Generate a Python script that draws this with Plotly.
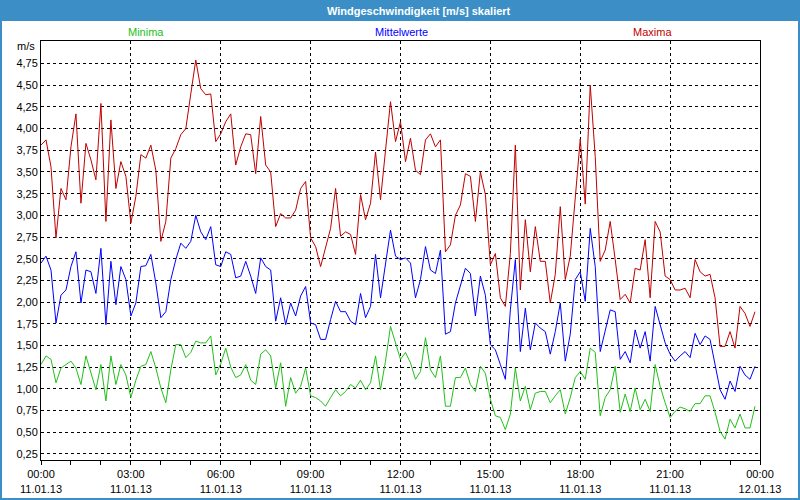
import pandas as pd
import plotly.graph_objects as go

# ---- data (10-minute values, 11.01.13 00:00 .. 23:50) ----
start_time = "2013-01-11 00:00"
n_points = 144

maxima = [
    3.81, 3.87, 3.56, 2.74, 3.31, 3.18, 3.79, 4.17, 3.14, 3.83, 3.64, 3.41, 4.29, 2.93, 4.10, 3.31, 3.62, 3.45,
    2.91, 3.22, 3.70, 3.66, 3.81, 3.52, 2.70, 2.93, 3.66, 3.77, 3.93, 4.00, 4.40, 4.79, 4.46, 4.39, 4.40, 3.85,
    3.94, 4.08, 4.17, 3.58, 3.79, 3.94, 3.93, 3.48, 4.14, 3.58, 3.50, 2.87, 3.02, 2.97, 2.97, 3.06, 3.31, 3.39,
    2.74, 2.64, 2.41, 2.64, 2.85, 3.31, 2.76, 2.81, 2.78, 2.55, 3.24, 2.95, 3.14, 3.73, 3.18, 3.75, 4.31, 3.85,
    4.08, 3.62, 3.89, 3.52, 3.47, 3.87, 3.94, 3.79, 3.87, 2.58, 2.66, 3.00, 3.12, 3.48, 3.45, 2.93, 3.50, 3.24,
    2.43, 2.56, 2.05, 1.95, 2.56, 3.81, 2.14, 2.95, 2.35, 2.87, 2.47, 2.47, 1.99, 2.32, 3.10, 2.26, 2.53, 3.20,
    3.88, 3.13, 4.50, 3.68, 2.47, 2.60, 2.93, 2.49, 2.03, 2.09, 1.99, 2.39, 2.37, 2.72, 2.05, 2.93, 2.81, 2.30,
    2.26, 2.14, 2.14, 2.16, 2.05, 2.49, 2.35, 2.30, 2.32, 2.05, 1.49, 1.49, 1.66, 1.47, 1.95, 1.87, 1.72, 1.89,
]

mittelwerte = [
    2.45, 2.53, 2.37, 1.76, 2.08, 2.14, 2.41, 2.58, 1.99, 2.37, 2.35, 2.10, 2.62, 1.74, 2.47, 1.97, 2.41, 2.26,
    1.84, 1.99, 2.41, 2.42, 2.55, 2.22, 1.82, 1.89, 2.26, 2.49, 2.68, 2.62, 2.70, 3.00, 2.81, 2.72, 2.87, 2.43,
    2.41, 2.58, 2.55, 2.28, 2.30, 2.47, 2.30, 2.10, 2.51, 2.41, 2.37, 1.78, 2.05, 1.74, 1.99, 1.84, 2.07, 2.18,
    1.76, 1.74, 1.57, 1.57, 1.80, 2.01, 1.89, 1.89, 1.78, 1.74, 2.10, 1.82, 1.95, 2.55, 2.05, 2.45, 2.83, 2.53,
    2.49, 2.51, 2.45, 2.05, 2.26, 2.64, 2.37, 2.33, 2.60, 1.63, 1.66, 1.99, 2.18, 2.39, 2.33, 1.84, 2.30, 2.08,
    1.51, 1.45, 1.28, 1.11, 1.91, 2.49, 1.43, 1.93, 1.45, 1.76, 1.70, 1.66, 1.40, 1.66, 1.99, 1.32, 1.63, 2.26,
    2.35, 2.01, 2.85, 2.41, 1.43, 1.66, 1.91, 1.89, 1.34, 1.43, 1.30, 1.68, 1.47, 1.66, 1.32, 1.95, 1.74, 1.53,
    1.40, 1.32, 1.38, 1.43, 1.36, 1.64, 1.51, 1.61, 1.57, 1.30, 0.99, 0.88, 1.09, 0.97, 1.26, 1.16, 1.11, 1.26,
]

minima = [
    1.28, 1.38, 1.34, 1.07, 1.24, 1.28, 1.32, 1.24, 1.05, 1.38, 1.18, 0.99, 1.28, 0.86, 1.38, 1.05, 1.28, 1.16,
    0.90, 1.10, 1.26, 1.28, 1.43, 1.24, 1.01, 0.84, 1.22, 1.51, 1.51, 1.36, 1.42, 1.55, 1.53, 1.53, 1.61, 1.16,
    1.29, 1.47, 1.25, 1.13, 1.16, 1.28, 1.10, 1.05, 1.40, 1.45, 1.38, 1.01, 1.30, 0.80, 1.13, 0.95, 1.03, 1.24,
    0.92, 0.90, 0.86, 0.80, 0.90, 0.99, 0.92, 0.97, 1.05, 1.01, 1.10, 0.99, 1.07, 1.38, 0.99, 1.32, 1.72, 1.53,
    1.34, 1.42, 1.30, 1.11, 1.20, 1.59, 1.22, 1.13, 1.38, 0.80, 0.80, 1.13, 1.13, 1.24, 1.05, 0.97, 1.26, 1.18,
    0.88, 0.69, 0.67, 0.53, 0.71, 1.24, 0.86, 1.03, 0.76, 0.95, 0.97, 0.97, 0.84, 0.92, 0.99, 0.71, 0.90, 1.13,
    1.20, 1.11, 1.47, 1.42, 0.69, 0.90, 0.99, 1.26, 0.73, 0.94, 0.74, 1.01, 0.76, 0.88, 0.74, 1.28, 1.03, 0.84,
    0.67, 0.74, 0.79, 0.77, 0.74, 0.83, 0.83, 0.92, 0.92, 0.73, 0.51, 0.42, 0.65, 0.55, 0.71, 0.55, 0.55, 0.80,
]

tick_times = ["2013-01-11 00:00", "2013-01-11 03:00", "2013-01-11 06:00", "2013-01-11 09:00",
              "2013-01-11 12:00", "2013-01-11 15:00", "2013-01-11 18:00", "2013-01-11 21:00",
              "2013-01-12 00:00"]
tick_labels = ["00:00<br>11.01.13", "03:00<br>11.01.13", "06:00<br>11.01.13", "09:00<br>11.01.13",
               "12:00<br>11.01.13", "15:00<br>11.01.13", "18:00<br>11.01.13", "21:00<br>11.01.13",
               "00:00<br>12.01.13"]
y_ticks = [0.25, 0.5, 0.75, 1.0, 1.25, 1.5, 1.75, 2.0, 2.25, 2.5, 2.75, 3.0, 3.25, 3.5, 3.75, 4.0, 4.25, 4.5, 4.75]

title_text = "Windgeschwindigkeit [m/s] skaliert"
series_names = ["Minima", "Mittelwerte", "Maxima"]
series_colors = ["#22C01A", "#0000FF", "#C00000"]

times = pd.date_range(start_time, periods=n_points, freq="10min")

# ---- layout geometry ----
W, H = 800, 500
ML, MR, MT, MB = 41, 40, 41, 40
PW, PH = W - ML - MR, H - MT - MB
FONT = "Liberation Sans, Arial, sans-serif"
BAR = "#3B8FC6"


def px_x(p):
    return (p - ML) / PW


def px_y(p):
    return 1 - (p - MT) / PH


fig = go.Figure()
for name, vals, col in zip(series_names, [minima, mittelwerte, maxima], series_colors):
    fig.add_trace(go.Scatter(x=times, y=vals, mode="lines", name=name,
                             line=dict(color=col, width=1), showlegend=False, hoverinfo="skip"))

fig.update_layout(
    width=W, height=H,
    margin=dict(l=ML, r=MR, t=MT, b=MB, pad=0, autoexpand=False),
    paper_bgcolor="#FFFFFF", plot_bgcolor="#FFFFFF",
    separators=",.",
    font=dict(family=FONT, size=11, color="#000000"),
    xaxis=dict(
        range=["2013-01-11 00:00", "2013-01-12 00:00"],
        tickvals=tick_times, ticktext=tick_labels, automargin=False,
        showgrid=True, gridcolor="#000000", gridwidth=1, griddash="3px,3px",
        showline=True, linecolor="#000000", linewidth=1, mirror=True,
        ticks="outside", ticklen=4, tickcolor="#000000",
        minor=dict(ticks="outside", ticklen=4, dtick=3600000, tickcolor="#000000", showgrid=False),
        zeroline=False, tickfont=dict(family=FONT, size=11),
    ),
    yaxis=dict(
        range=[0.18, 5.01], automargin=False,
        tickvals=y_ticks, tickformat=".2f",
        showgrid=True, gridcolor="#000000", gridwidth=1, griddash="3px,3px",
        showline=True, linecolor="#000000", linewidth=1, mirror=True,
        ticks="", zeroline=False, tickfont=dict(family=FONT, size=11),
    ),
)

# title bar and outer border
fig.add_shape(type="rect", xref="paper", yref="paper",
              x0=px_x(0), x1=px_x(W), y0=px_y(21), y1=px_y(0),
              fillcolor=BAR, line=dict(width=0), layer="above")
fig.add_shape(type="rect", xref="paper", yref="paper",
              x0=px_x(1), x1=px_x(W - 1), y0=px_y(H - 1), y1=px_y(1),
              fillcolor="rgba(0,0,0,0)", line=dict(color=BAR, width=2), layer="above")

fig.add_annotation(text="<b>" + title_text + "</b>", xref="paper", yref="paper",
                   x=px_x(419), y=px_y(10.5), xanchor="center", yanchor="middle", showarrow=False,
                   font=dict(family=FONT, size=11, color="#FFFFFF"))

legend_x = [146, 401, 652]
for name, col, lx in zip(series_names, series_colors, legend_x):
    fig.add_annotation(text=name, xref="paper", yref="paper", x=px_x(lx), y=px_y(32),
                       xanchor="center", yanchor="middle",
                       showarrow=False, font=dict(family=FONT, size=11, color=col))

fig.add_annotation(text="m/s", xref="paper", yref="paper", x=px_x(37), y=px_y(46),
                   xanchor="right", yanchor="middle", showarrow=False,
                   font=dict(family=FONT, size=11, color="#000000"))

fig.write_html("out.html", config={"displayModeBar": False, "staticPlot": True},
               post_script="document.body.style.margin='0';document.body.style.padding='0';"
                           "document.documentElement.style.overflow='hidden';")
